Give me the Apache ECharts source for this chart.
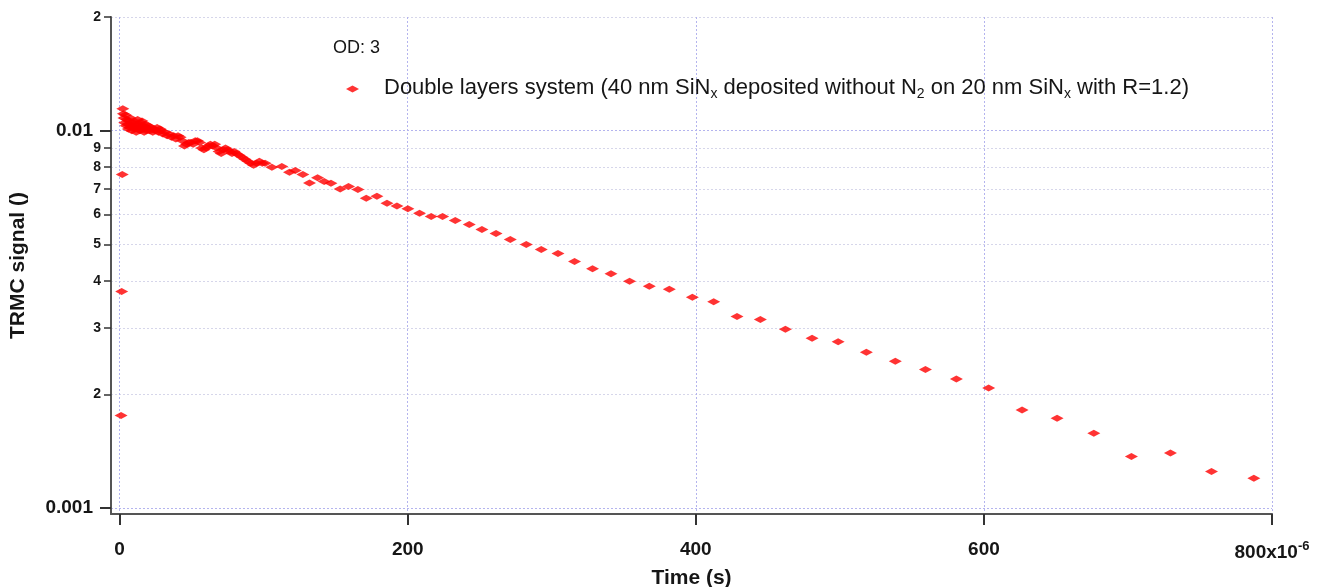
<!DOCTYPE html>
<html><head><meta charset="utf-8">
<script src="https://cdn.jsdelivr.net/npm/echarts@6/dist/echarts.min.js"></script>
<style>html,body{margin:0;padding:0;background:#fff}#c{width:1328px;height:587px}</style>
</head><body><div id="c"></div>
<script>
// Time in microseconds (axis shows x10^-6 s)
const timeUs = [
  1.0, 1.4, 1.8, 2.2, 2.6,
  3.0, 3.5, 4.0, 4.5, 5.0, 5.5, 6.0, 6.5, 7.0, 7.5, 8.0, 8.5, 9.0, 9.5, 10.0,
  10.5, 11.0, 11.5, 12.0, 12.5, 13.0, 13.5, 14.0, 14.5, 15.0, 15.5, 16.0, 16.5, 17.0, 17.5,
  18.0, 18.5, 19.0, 19.5, 20.0, 21.0, 22.0, 23.0, 24.0, 25.0, 26.0, 27.0, 28.0, 29.0, 30.0,
  31.5, 33, 34.5, 36, 37.5, 39, 40.5, 42, 43.5, 45, 46.5, 48, 49.5, 51, 52.5, 54, 55.5, 57,
  58.5, 60, 61.5, 63, 64.5, 66, 67.5, 69, 70.5, 72, 73.5, 75, 76.5, 78, 79.5, 81, 83, 85,
  87, 89, 91, 93, 95, 97, 99,
  101.0, 105.7, 112.6, 117.9, 121.9, 127.2, 131.8, 137.4, 142.0, 146.7, 153.1, 158.9, 165.4,
  171.2, 178.6, 185.6, 192.5, 200.1, 208.2, 216.3, 224.2, 233.0, 242.7, 251.5, 261.3, 271.2,
  282.3, 292.7, 304.3, 315.8, 328.3, 341.1, 354.0, 367.7, 381.6, 397.6, 412.4, 428.6, 444.8,
  462.2, 480.7, 498.8, 518.4, 538.5, 559.4, 580.9, 603.3, 626.5, 650.8, 676.3, 702.4, 729.5,
  758.0, 787.4
];
const signal = [
  0.00176, 0.00375, 0.00765, 0.01143, 0.01109,
  0.0108, 0.0105, 0.0110, 0.0103, 0.0107, 0.0104, 0.0101, 0.0106, 0.0102, 0.0108, 0.0103, 0.0100, 0.0105, 0.0102, 0.0106,
  0.0101, 0.0104, 0.0099, 0.0103, 0.0107, 0.0101, 0.0104, 0.0100, 0.0102, 0.0105, 0.0106, 0.0101, 0.0103, 0.0099, 0.0102,
  0.0104, 0.0100, 0.0102, 0.0101, 0.0103, 0.0100, 0.0102, 0.0099, 0.0101, 0.0100, 0.0102, 0.0099, 0.0101, 0.0100, 0.0098,
  0.0099, 0.0097, 0.0098, 0.0096, 0.0097, 0.0095, 0.0097, 0.0096, 0.0094, 0.0091, 0.0092, 0.0093, 0.0093, 0.0092, 0.0094, 0.0094, 0.0093, 0.0090,
  0.0089, 0.0090, 0.0091, 0.0092, 0.0091, 0.0092, 0.0090, 0.0088, 0.0087, 0.0089, 0.0090, 0.0089, 0.0088, 0.0087, 0.0088, 0.0087, 0.0086, 0.0085,
  0.0084, 0.0083, 0.0082, 0.0081, 0.0082, 0.0083, 0.0082,
  0.00820, 0.00800, 0.00803, 0.00776, 0.00784, 0.00765, 0.00727, 0.00750, 0.00733, 0.00726, 0.00701, 0.00711, 0.00698,
  0.00662, 0.00670, 0.00642, 0.00632, 0.00621, 0.00604, 0.00592, 0.00592, 0.00578, 0.00564, 0.00547, 0.00534, 0.00515,
  0.00499, 0.00484, 0.00473, 0.00450, 0.00431, 0.00418, 0.00399, 0.00387, 0.00380, 0.00362, 0.00352, 0.00322, 0.00316,
  0.00298, 0.00282, 0.00276, 0.00259, 0.00245, 0.00233, 0.00220, 0.00208, 0.00182, 0.00173, 0.00158, 0.00137, 0.00140,
  0.00125, 0.00120
];
const xTickValues = [0, 200, 400, 600, 800];
const yMajorTicks = [0.001, 0.01];
const yMinorTicks = [0.001, 0.002, 0.003, 0.004, 0.005, 0.006, 0.007, 0.008, 0.009, 0.01, 0.02];
const yMinorLabels = [0.002, 0.003, 0.004, 0.005, 0.006, 0.007, 0.008, 0.009, 0.02];
const seriesName = 'Double layers system (40 nm SiNx deposited without N2 on 20 nm SiNx with R=1.2)';
const legendTitle = 'OD: 3';

const FONT = '"Liberation Sans", Arial, sans-serif';
const INK = '#161616';
const points = timeUs.map((t, i) => [t, signal[i]]);
const GRID_DECADE = '#b4b4ee';
const GRID_MINOR = '#d6d6ea';

const chart = echarts.init(document.getElementById('c'), null, {renderer: 'canvas'});
chart.setOption({
  backgroundColor: '#fff',
  animation: false,
  title: {
    text: legendTitle, left: 328, top: 34,
    textStyle: {fontFamily: FONT, fontSize: 18, fontWeight: 'normal', color: INK}
  },
  legend: {
    left: 341, top: 68,
    icon: 'diamond', itemWidth: 13, itemHeight: 7,
    data: [seriesName],
    formatter: () => '{g|}{n|Double layers system (40 nm SiN}{s|x}{n| deposited without N}{s|2}{n| on 20 nm SiN}{s|x}{n| with R=1.2)}',
    textStyle: {
      fontFamily: FONT,
      rich: {
        g: {width: 20},
        n: {fontFamily: FONT, fontSize: 22, color: INK, lineHeight: 24, verticalAlign: 'top'},
        s: {fontFamily: FONT, fontSize: 14, color: INK, lineHeight: 14, padding: [14, 0, 0, 0], verticalAlign: 'bottom'}
      }
    }
  },
  grid: {left: 111, right: 56, top: 17, bottom: 73, containLabel: false, outerBoundsMode: 'none'},
  xAxis: {
    type: 'value', min: -6, max: 800,
    name: 'Time (s)', nameLocation: 'middle', nameGap: 54,
    nameTextStyle: {fontFamily: FONT, fontSize: 21, fontWeight: 'bold', color: INK},
    axisLine: {show: true, onZero: false, lineStyle: {color: '#555', width: 2}},
    axisTick: {show: true, customValues: xTickValues, length: 11, lineStyle: {color: '#333', width: 2}},
    axisLabel: {
      customValues: xTickValues, margin: 26,
      fontFamily: FONT, fontSize: 19, fontWeight: 'bold', color: INK,
      formatter: v => v === 800 ? '{n|800x10}{p|-6}' : String(v),
      rich: {
        n: {fontFamily: FONT, fontSize: 19, fontWeight: 'bold', color: INK, lineHeight: 22, verticalAlign: 'bottom'},
        p: {fontFamily: FONT, fontSize: 13, fontWeight: 'bold', color: INK, lineHeight: 13, padding: [0, 0, 10, 0], verticalAlign: 'top'}
      }
    },
    splitLine: {show: true, lineStyle: {color: GRID_DECADE, type: [2, 2], width: 1}}
  },
  yAxis: [{
    type: 'log', min: 0.000965, max: 0.02,
    name: 'TRMC signal ()', nameLocation: 'middle', nameGap: 82,
    nameTextStyle: {fontFamily: FONT, fontSize: 21, fontWeight: 'bold', color: INK},
    axisLine: {show: true, onZero: false, lineStyle: {color: '#555', width: 2}},
    axisTick: {show: true, customValues: yMinorTicks, length: 7, lineStyle: {color: '#333', width: 1.5}},
    axisLabel: {
      customValues: yMinorLabels, margin: 10,
      fontFamily: FONT, fontSize: 14, fontWeight: 'bold', color: INK,
      formatter: v => v > 0.011 ? String(Math.round(v * 100)) : String(Math.round(v * 1000))
    },
    splitLine: {show: true, lineStyle: {
      color: [GRID_DECADE, GRID_MINOR, GRID_MINOR, GRID_MINOR, GRID_MINOR, GRID_MINOR, GRID_MINOR, GRID_MINOR, GRID_MINOR, GRID_DECADE, GRID_MINOR],
      type: [2, 2], width: 1}}
  }, {
    type: 'log', min: 0.000965, max: 0.02, position: 'left', offset: 0,
    axisLine: {show: false, onZero: false},
    axisTick: {show: true, customValues: yMajorTicks, length: 11, lineStyle: {color: '#333', width: 2}},
    axisLabel: {
      customValues: yMajorTicks, margin: 18,
      fontFamily: FONT, fontSize: 19, fontWeight: 'bold', color: INK,
      formatter: v => Math.abs(v - 0.001) < 1e-7 ? '0.001' : '0.01'
    },
    splitLine: {show: false}
  }],
  series: [{
    name: seriesName,
    type: 'scatter',
    yAxisIndex: 0,
    data: points,
    symbol: 'diamond',
    symbolSize: [13, 7],
    itemStyle: {color: '#ff0000'}
  }]
});
</script>
</body></html>
